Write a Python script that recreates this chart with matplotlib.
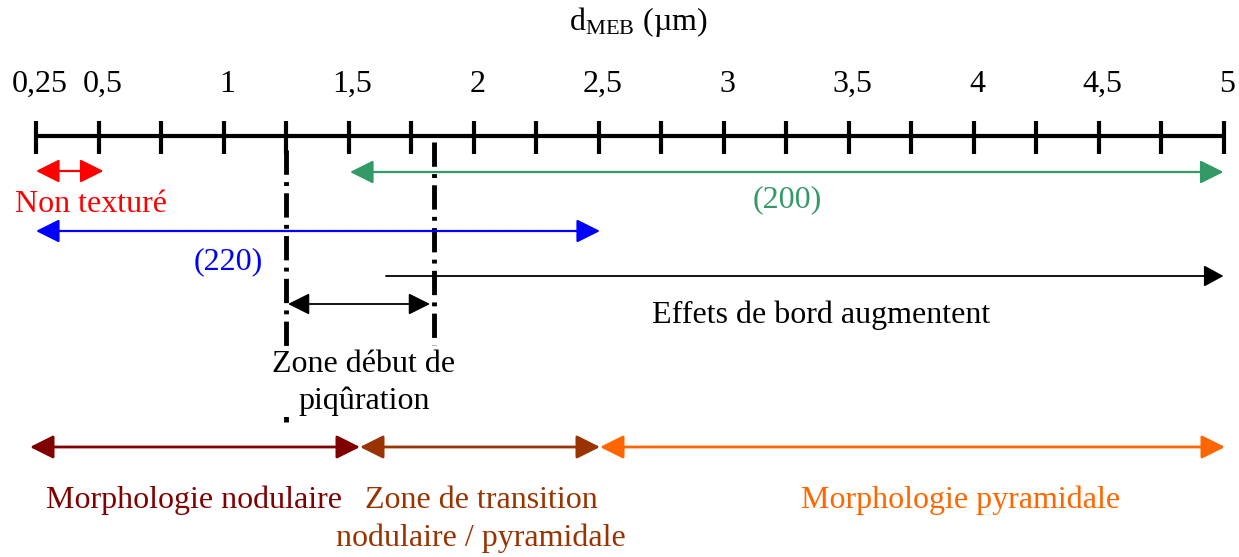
import matplotlib.pyplot as plt

FONT = 'Liberation Serif'
plt.rcParams['mathtext.fontset'] = 'custom'
plt.rcParams['mathtext.rm'] = FONT
plt.rcParams['mathtext.it'] = FONT + ':italic'

# graduations de l'axe d_MEB (µm)
tick_values = [0.25 * i for i in range(1, 21)]
label_values = [0.25, 0.5, 1, 1.5, 2, 2.5, 3, 3.5, 4, 4.5, 5]
label_texts = ['0,25', '0,5', '1', '1,5', '2', '2,5', '3', '3,5', '4', '4,5', '5']

# domaines (début, fin) en µm
non_texture = (0.25, 0.52)
texture_200 = (1.506, 5.0)
texture_220 = (0.25, 2.506)
effets_bord = (1.65, 5.0)
piqure = (1.258, 1.826)
piqure_lines = [1.25, 1.84]
morpho_nod = (0.226, 1.546)
morpho_trans = (1.546, 2.506)
morpho_pyr = (2.506, 5.006)


def px_to_um(px):
    return 0.25 + (px - 36) / 250


fig = plt.figure(figsize=(12.39, 5.57), dpi=100)
ax = fig.add_axes([0, 0, 1, 1])
ax.set_xlim(px_to_um(0), px_to_um(1239))
ax.set_ylim(557, 0)
ax.axis('off')


def double_arrow(x0, x1, y, color, lw=1.6, hl=0.6, hw=0.3, style='<|-|>', ms=24):
    ax.annotate('', xy=(x1, y), xytext=(x0, y),
                arrowprops=dict(arrowstyle=f'{style},head_length={hl},head_width={hw}',
                                color=color, lw=lw, shrinkA=0, shrinkB=0,
                                mutation_scale=ms))


# axe principal
ax.plot([tick_values[0], tick_values[-1]], [136, 136], color='black', lw=3, solid_capstyle='butt')
for v in tick_values:
    ax.plot([v, v], [121, 154], color='black', lw=3, solid_capstyle='butt')
for v, t in zip(label_values, label_texts):
    ax.text(v + 0.015, 84, t, ha='center', va='center', fontsize=23, family=FONT)
ax.text(px_to_um(638), 22, r'd$_{\mathrm{MEB}}$ (µm)', ha='center', va='center',
        fontsize=23, family=FONT)

# lignes pointillées de la zone de piqûre
ax.plot([piqure_lines[0]] * 2, [150, 422], color='black', lw=3.5,
        linestyle=(0, (5, 1.5, 0.8, 1.5)), zorder=1)
ax.plot([piqure_lines[1]] * 2, [142, 345], color='black', lw=3.5,
        linestyle=(0, (5, 1.5, 0.8, 1.5)), zorder=1)

# domaines de texture
double_arrow(*non_texture, 171, 'red')
ax.text(px_to_um(91), 205, 'Non texturé', color='red', ha='center', va='center',
        fontsize=23, family=FONT)
double_arrow(*texture_200, 172, '#339966')
ax.text(px_to_um(787), 200, '(200)', color='#339966', ha='center', va='center',
        fontsize=23, family=FONT)
double_arrow(*texture_220, 231, 'blue')
ax.text(px_to_um(228), 262, '(220)', color='blue', ha='center', va='center',
        fontsize=23, family=FONT)
double_arrow(*effets_bord, 276, 'black', lw=1.3, hl=0.55, hw=0.3, style='-|>', ms=22)
ax.text(px_to_um(821), 315, 'Effets de bord augmentent', ha='center', va='center',
        fontsize=23, family=FONT)
double_arrow(*piqure, 304, 'black', lw=1.3, ms=22)
ax.text(px_to_um(364), 383, 'Zone début de\npiqûration', ha='center', va='center',
        fontsize=23, family=FONT, linespacing=1.35, zorder=3,
        bbox=dict(facecolor='white', edgecolor='none', pad=1))

# morphologies
double_arrow(*morpho_nod, 447, '#800000', lw=2)
ax.text(px_to_um(194), 500, 'Morphologie nodulaire', color='#800000', ha='center', va='center',
        fontsize=23, family=FONT)
double_arrow(*morpho_trans, 447, '#993300', lw=2)
ax.text(px_to_um(481), 500, 'Zone de transition', color='#993300', ha='center', va='center',
        fontsize=23, family=FONT)
ax.text(px_to_um(481), 538, 'nodulaire / pyramidale', color='#993300', ha='center', va='center',
        fontsize=23, family=FONT)
double_arrow(*morpho_pyr, 447, '#FF6600', lw=2)
ax.text(px_to_um(961), 500, 'Morphologie pyramidale', color='#FF6600', ha='center', va='center',
        fontsize=23, family=FONT)

fig.savefig('out.png', dpi=100)
